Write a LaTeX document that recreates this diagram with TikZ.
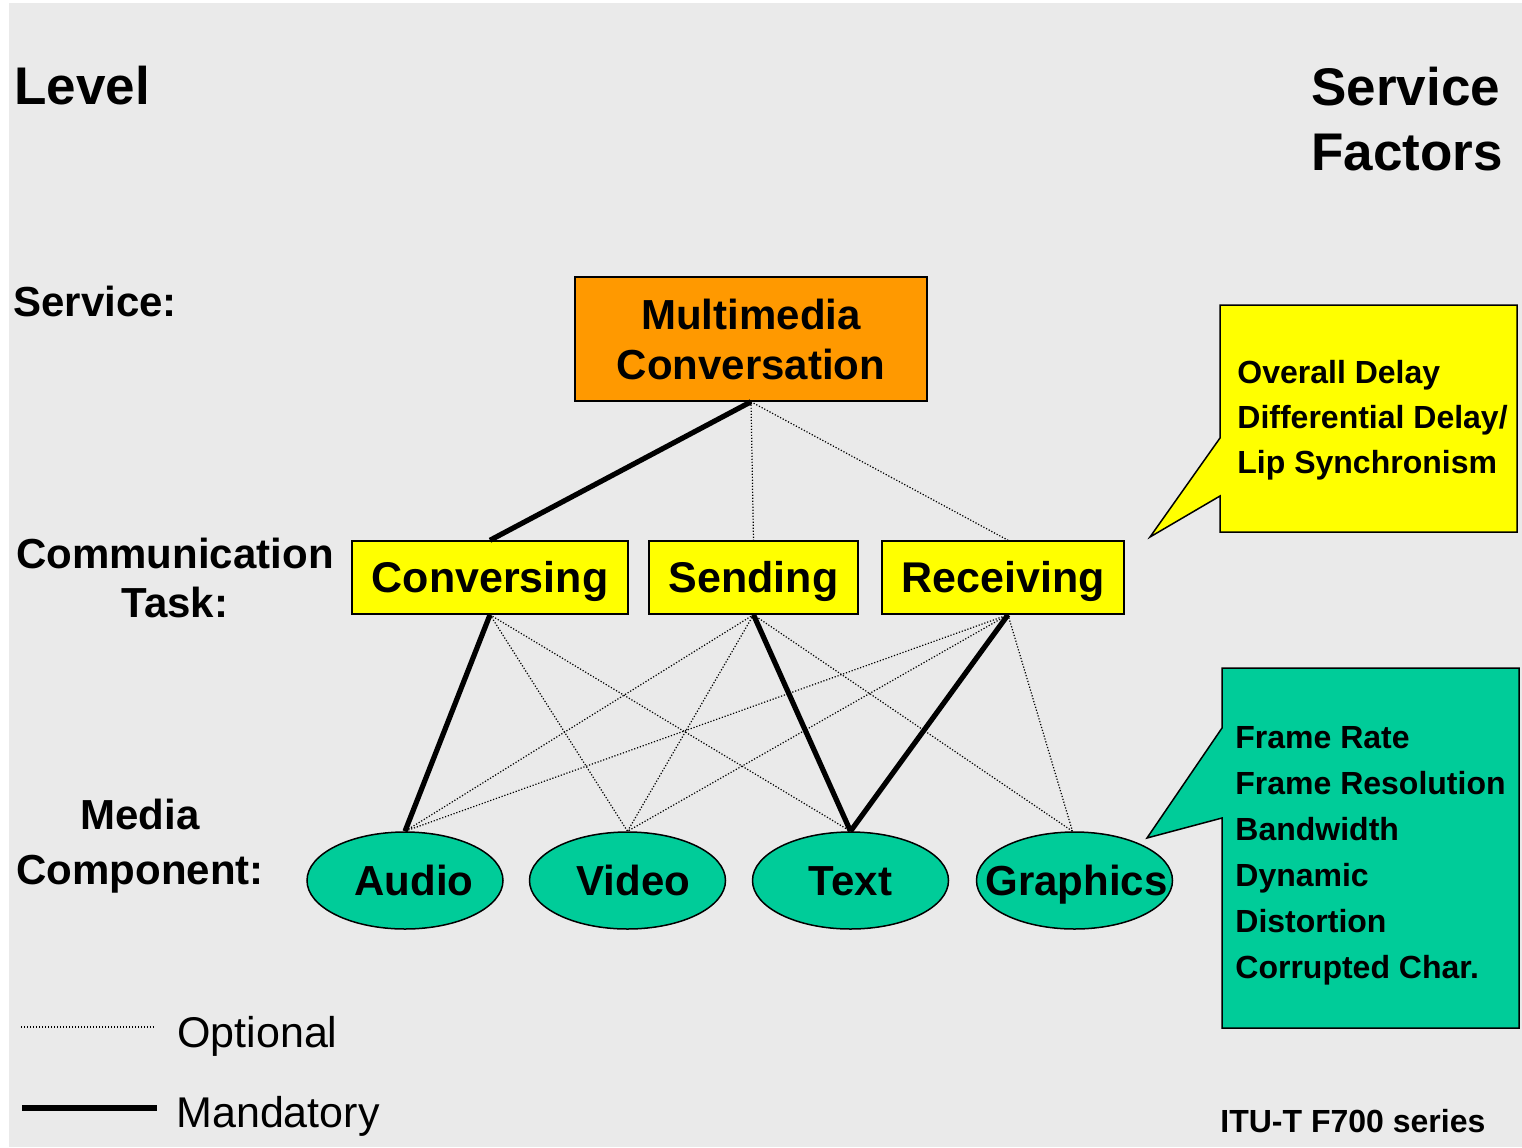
\documentclass[tikz,border=0pt]{standalone}
\usepackage{fontspec}
\setmainfont{Liberation Sans}
\usetikzlibrary{shapes.geometric}
\definecolor{panel}{HTML}{EAEAEA}
\definecolor{svcorange}{HTML}{FF9900}
\definecolor{taskyellow}{HTML}{FFFF00}
\definecolor{mediagreen}{HTML}{00CC99}

\begin{document}
\begin{tikzpicture}[x=0.5pt,y=-0.5pt,
  heading/.style={font=\fontsize{26.5}{32}\selectfont\bfseries, inner sep=0pt, anchor=base west},
  levelname/.style={font=\fontsize{21}{25}\selectfont\bfseries, inner sep=0pt, anchor=base},
  svcbox/.style={draw=black, line width=0.75pt, fill=svcorange, minimum width=176pt,
    minimum height=62pt, inner sep=0pt, align=center, font=\fontsize{21}{25}\selectfont\bfseries},
  taskbox/.style={draw=black, line width=0.75pt, fill=taskyellow, minimum height=36.5pt,
    inner sep=0pt, font=\fontsize{21.5}{25}\selectfont\bfseries, text height=15.4pt, text depth=0pt},
  media/.style={ellipse, draw=black, line width=0.75pt, fill=mediagreen, minimum width=98pt,
    minimum height=48.5pt, inner sep=0pt},
  medialbl/.style={font=\fontsize{21}{25}\selectfont\bfseries, inner sep=0pt, text height=15pt, text depth=0pt},
  mand/.style={line width=2.6pt},
  opt/.style={line width=0.6pt, dash pattern=on 0.6pt off 0.9pt},
  callout/.style={draw=black, line width=0.75pt},
  factor/.style={font=\fontsize{16}{20}\selectfont\bfseries, inner sep=0pt, anchor=base west},
  legendtxt/.style={font=\fontsize{21.5}{25}\selectfont, inner sep=0pt, anchor=base west}
]
\useasboundingbox (0,0) rectangle (1522,1147);
\fill[white] (0,0) rectangle (1522,1147);
\fill[panel] (9,3) rectangle (1522,1147);

% column headings
\node[heading] (level) at (14,104) {Level};
\node[heading] (sf1) at (1311,105) {Service};
\node[heading] (sf2) at (1311,170) {Factors};

% level names on the left
\node[levelname, anchor=base west] (lsvc) at (13,316) {Service:};
\node[levelname] (lcom1) at (175,568) {Communication};
\node[levelname] (lcom2) at (175,617) {Task:};
\node[levelname] (lmed1) at (140,829) {Media};
\node[levelname] (lmed2) at (140,884) {Component:};

% service
\node[svcbox] (mc) at (751,339) {Multimedia\\Conversation};

% communication tasks
\node[taskbox, minimum width=138pt] (conv) at (490,577.5) {Conversing};
\node[taskbox, minimum width=104.5pt] (send) at (753.5,577.5) {Sending};
\node[taskbox, minimum width=121pt] (recv) at (1003,577.5) {Receiving};

% media components
\node[media, label={[medialbl, xshift=4.5pt]center:Audio}] (audio) at (405,880.5) {};
\node[media, label={[medialbl, xshift=3pt]center:Video}] (video) at (627.5,880.5) {};
\node[media, label={[medialbl]center:Text}] (text) at (850.5,880.5) {};
\node[media, label={[medialbl, xshift=1pt]center:Graphics}] (graph) at (1074.5,880.5) {};

% optional relations
\draw[opt] (mc.south) -- (send.north);
\draw[opt] (mc.south) -- ([xshift=2.5pt]recv.north);
\draw[opt] (conv.south) -- (video.north);
\draw[opt] (conv.south) -- (text.north);
\draw[opt] (send.south) -- (audio.north);
\draw[opt] (send.south) -- (video.north);
\draw[opt] (send.south) -- ([xshift=-1pt]graph.north);
\draw[opt] ([xshift=2.5pt]recv.south) -- (audio.north);
\draw[opt] ([xshift=2.5pt]recv.south) -- (video.north);
\draw[opt] ([xshift=2.5pt]recv.south) -- ([xshift=-1pt]graph.north);

% mandatory relations
\draw[mand] (mc.south) -- (conv.north);
\draw[mand] (conv.south) -- (audio.north);
\draw[mand] (send.south) -- (text.north);
\draw[mand] ([xshift=2.5pt]recv.south) -- (text.north);

% service factors of the communication tasks
\draw[callout, fill=taskyellow] (1220,305) -- (1517,305) -- (1517,532) -- (1220,532)
  -- (1220,496) -- (1150,537) -- (1220,438) -- cycle;
\foreach \t [count=\i] in {Overall Delay, Differential Delay/, Lip Synchronism}
  \node[factor] (delay\i) at ({1237}, {383+45*(\i-1)}) {\t};

% service factors of the media components
\draw[callout, fill=mediagreen] (1222,668) -- (1519,668) -- (1519,1028) -- (1222,1028)
  -- (1222,818) -- (1147,838) -- (1222,728) -- cycle;
\foreach \t [count=\i] in {Frame Rate, Frame Resolution, Bandwidth, Dynamic, Distortion, Corrupted Char.}
  \node[factor] (media\i) at ({1235}, {748.5+46*(\i-1)}) {\t};

% legend
\coordinate (o1) at (21,1027);
\coordinate (o2) at (155,1027);
\coordinate (m1) at (22,1108);
\coordinate (m2) at (157,1108);
\draw[opt] (o1) -- (o2);
\draw[mand] (m1) -- (m2);
\node[legendtxt] (lopt) at (177,1047) {Optional};
\node[legendtxt] (lmand) at (176,1127) {Mandatory};

% source
\node[factor] (src) at (1220,1132) {ITU-T F700 series};
\end{tikzpicture}
\end{document}
